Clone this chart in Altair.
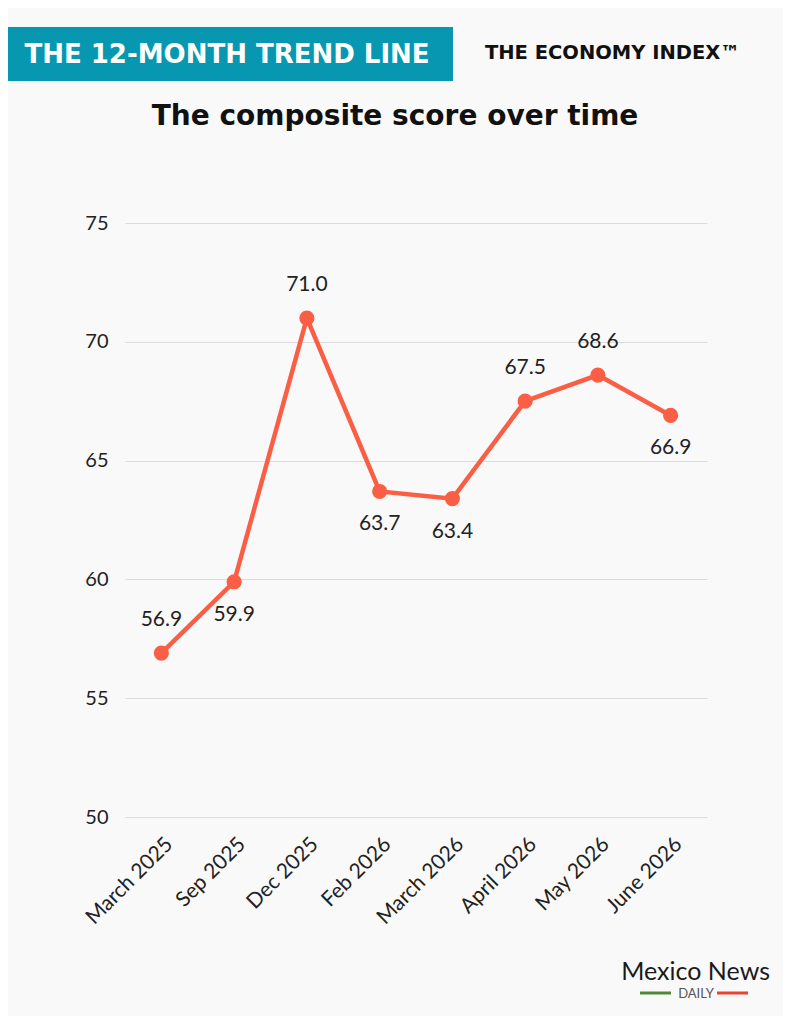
import pandas as pd
import altair as alt

# ---------------------------------------------------------------------------
# Data
# ---------------------------------------------------------------------------
months = ["March 2025", "Sep 2025", "Dec 2025", "Feb 2026",
          "March 2026", "April 2026", "May 2026", "June 2026"]
scores = [56.9, 59.9, 71.0, 63.7, 63.4, 67.5, 68.6, 66.9]
labels_below = ["Sep 2025", "Feb 2026", "March 2026", "June 2026"]
y_ticks = [50, 55, 60, 65, 70, 75]

banner_text = "THE 12-MONTH TREND LINE"
brand_text = "THE ECONOMY INDEX™"
title_text = "The composite score over time"
logo_text = "Mexico News"
logo_sub = "DAILY"

df = pd.DataFrame({"month": months, "score": scores})
df["label"] = df["score"].map(lambda v: f"{v:.1f}")
one = pd.DataFrame({"k": [0]})

LINE = "#fa5f46"
TEAL = "#0897b1"
FONT = "Lato"
HEAD = "DejaVu Sans"

# ---------------------------------------------------------------------------
# Chart
# ---------------------------------------------------------------------------
base = alt.Chart(df).encode(
    x=alt.X("month:N", sort=months, scale=alt.Scale(type="point", padding=0.5),
            axis=alt.Axis(title=None, labelAngle=-45, labelAlign="right",
                          labelBaseline="top", labelPadding=16, ticks=False,
                          domain=False, grid=False, labelFontSize=21,
                          labelColor="#222222", labelFont=FONT)),
    y=alt.Y("score:Q", scale=alt.Scale(domain=[50, 75], nice=False),
            axis=alt.Axis(title=None, values=y_ticks, ticks=False, domain=False,
                          grid=True, gridColor="#dcdcdc", gridWidth=1.2,
                          labelFontSize=20, labelPadding=17,
                          labelColor="#222222", labelFont=FONT)),
)

line = base.mark_line(color=LINE, strokeWidth=4.5)
points = base.mark_circle(color=LINE, size=230, opacity=1)

above = base.mark_text(dy=-33, fontSize=21, font=FONT, color="#222222").encode(
    text="label:N"
).transform_filter(~alt.FieldOneOfPredicate(field="month", oneOf=labels_below))
below = base.mark_text(dy=33, fontSize=21, font=FONT, color="#222222").encode(
    text="label:N"
).transform_filter(alt.FieldOneOfPredicate(field="month", oneOf=labels_below))

# header, title and logo (decoration, placed in pixels around the plot)
deco = alt.Chart(one)
banner = deco.mark_rect(color=TEAL).encode(
    x=alt.value(-125), x2=alt.value(328), y=alt.value(-196), y2=alt.value(-142))
banner_t = deco.mark_text(text=banner_text, color="white", fontSize=26,
                          fontWeight="bold", font=HEAD, align="center",
                          baseline="alphabetic").encode(
    x=alt.value(102), y=alt.value(-160))
brand = deco.mark_text(text=brand_text, color="#111111", fontSize=19.5,
                       fontWeight="bold", font=HEAD, align="left",
                       baseline="alphabetic").encode(
    x=alt.value(360), y=alt.value(-164))
title = deco.mark_text(text=title_text, color="#111111", fontSize=28,
                       fontWeight="bold", font=HEAD, align="center",
                       baseline="alphabetic").encode(
    x=alt.value(270), y=alt.value(-98))
logo = deco.mark_text(text=logo_text, color="#1a1a1a", fontSize=25,
                      font=FONT, align="right", baseline="alphabetic").encode(
    x=alt.value(645), y=alt.value(757))
logo2 = deco.mark_text(text=logo_sub, color="#555555", fontSize=13,
                       font=FONT, align="center", baseline="alphabetic").encode(
    x=alt.value(571), y=alt.value(775))
green = deco.mark_rule(color="#4f8a3a", strokeWidth=3).encode(
    x=alt.value(515), x2=alt.value(546), y=alt.value(770))
red = deco.mark_rule(color="#e8442f", strokeWidth=3).encode(
    x=alt.value(592), x2=alt.value(623), y=alt.value(770))

chart = (
    alt.layer(line, points, above, below,
              banner, banner_t, brand, title, logo, logo2, green, red)
    .properties(width=582, height=594,
                autosize=alt.AutoSizeParams(type="none"),
                padding={"left": 117, "top": 215, "right": 76, "bottom": 199},
                background="#f9f9f9")
    .configure_view(strokeWidth=0)
)

chart.save("out.html", embed_options={"renderer": "svg", "actions": False})
